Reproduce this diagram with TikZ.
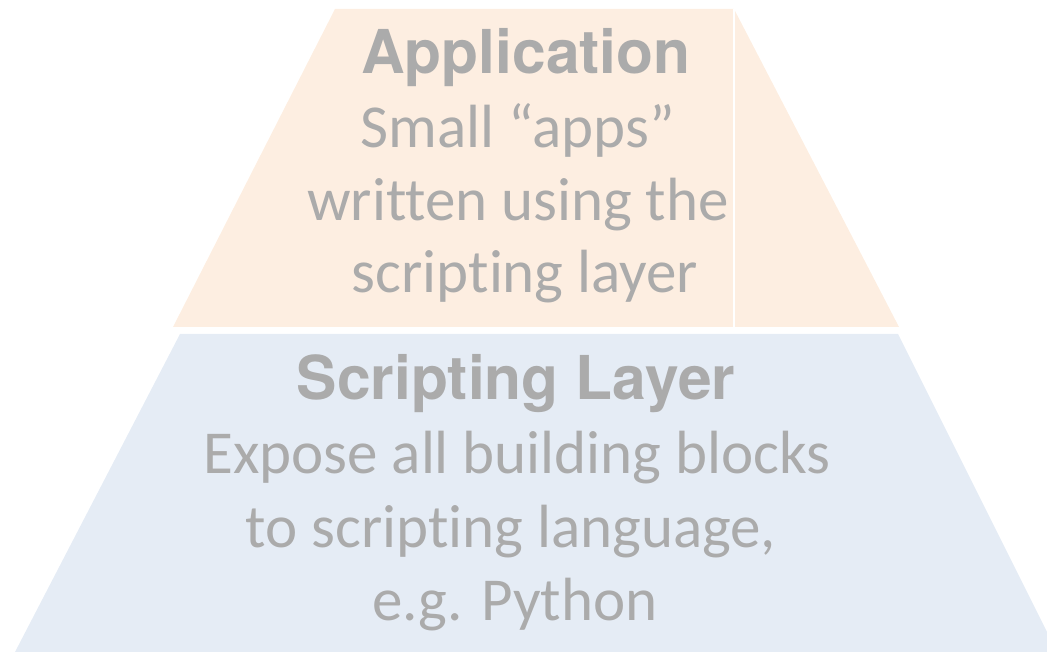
\documentclass[tikz,border=0pt]{standalone}
\usepackage{fontspec}
\setmainfont{Carlito}[Ligatures={NoCommon}]
\newfontfamily\headfont{TeX Gyre Heros}
\definecolor{peach}{HTML}{FDEEE1}
\definecolor{paleblue}{HTML}{E5ECF5}
\definecolor{txtgray}{HTML}{ABABAB}
\tikzset{
  layertitle/.style={anchor=base, inner sep=0pt, text=txtgray,
    font=\headfont\bfseries\fontsize{60.5}{70}\selectfont},
  layertext/.style={anchor=base, inner sep=0pt, text=txtgray,
    font=\fontsize{61}{73}\selectfont},
}
\begin{document}
\begin{tikzpicture}[x=1pt,y=-1pt]
\useasboundingbox (0,0) rectangle (1047,652);
\clip (0,0) rectangle (1047,652);
% upper layer
\fill[peach] (335,9) -- (734,9) -- (899,327) -- (173,327) -- cycle;
\draw[white, line width=1.2pt] (734,9) -- (734,327);
% lower layer
\fill[paleblue] (180,334) -- (898,334) -- (1057,652) -- (15,652) -- cycle;
% labels of the upper layer
\node[layertitle] (apptitle) at (526,74) {Application};
\node[layertext] (app1) at (518,148) {Small “apps”};
\node[layertext] (app2) at (518,221) {written using the};
\node[layertext] (app3) at (525,293) {scripting layer};
% labels of the lower layer
\node[layertitle] (scrtitle) at (516,399) {Scripting Layer};
\node[layertext] (scr1) at (517,473) {Expose all building blocks};
\node[layertext] (scr2) at (511,547) {to scripting language,};
\node[layertext] (scr3) at (515,620) {e.g. Python};
\end{tikzpicture}
\end{document}
